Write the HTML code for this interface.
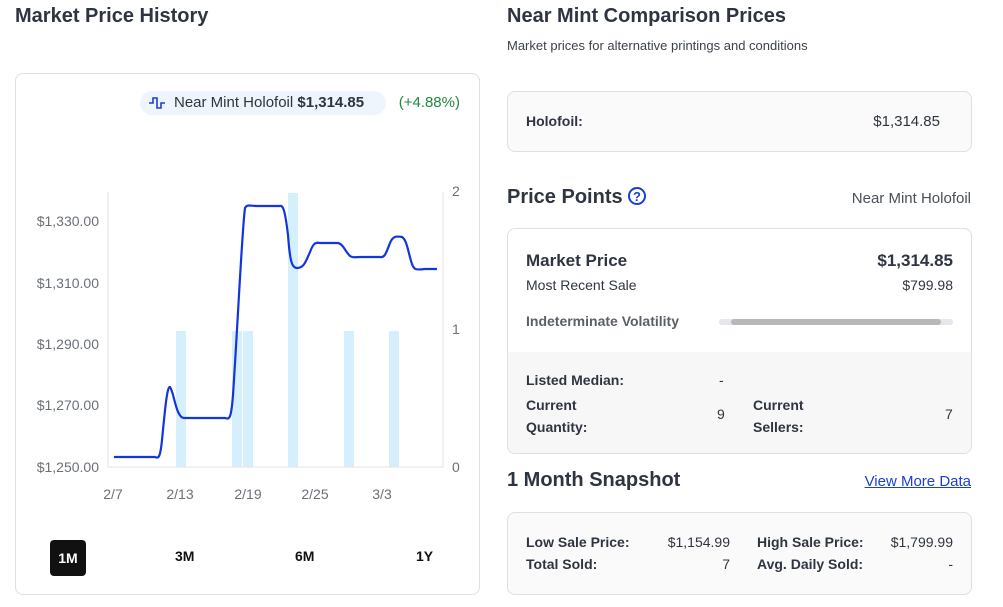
<!DOCTYPE html>
<html><head><style>
body{margin:0;width:1003px;height:607px;background:#fff;font-family:"Liberation Sans",sans-serif;color:#2f3540;position:relative;overflow:hidden}
.a{position:absolute;white-space:nowrap}
.r{position:absolute;white-space:nowrap;text-align:right}
.b{font-weight:bold}
.box{position:absolute;border:1px solid #dcdfe3;border-radius:8px;box-sizing:border-box}
</style></head><body>
<div class="a b" style="left:15px;top:5px;font-size:20px">Market Price History</div>
<div class="box" style="left:15px;top:73px;width:465px;height:522px"></div>
<div class="a" style="left:140px;top:91px;width:246px;height:24px;background:#eff5fd;border-radius:12px"></div>
<svg class="a" style="left:148px;top:95px" width="18" height="16"><path d="M1 8H5V3H9V13H13V8H17" fill="none" stroke="#1a3fd6" stroke-width="1.6"/></svg>
<div class="a" style="left:174px;top:94px;font-size:15px">Near Mint Holofoil <b>$1,314.85</b></div>
<div class="r" style="right:543px;top:94px;font-size:15px;color:#1f8a3d">(+4.88%)</div>
<svg class="a" style="left:0;top:0" width="480" height="520">
<g fill="#d5effd"><rect x="176" y="331" width="10" height="136"/><rect x="232" y="331" width="10" height="136"/><rect x="243" y="331" width="10" height="136"/><rect x="288" y="193" width="10" height="274"/><rect x="344" y="331" width="10" height="136"/><rect x="389" y="331" width="10" height="136"/></g>
<g stroke="#e3e3e3" fill="none"><path d="M108 192V467H443V192"/></g>
<path d="M114 457L155 457C158 458 160 460 162 440C165 410 167 386 170 387C174 392 176 418 184 418L225 418C229 419 231 421 233 395C238 320 242 230 245 208C247 204 250 206 258 206L280 206C283 205 285 210 288 235C290 262 292 268 297 268C303 268 305 264 310 252C313 244 315 242 320 243L338 243C343 244 345 251 350 256C353 258 355 257 362 257L380 257C385 258 386 253 390 243C393 236 396 236 402 237C407 240 408 252 412 264C414 270 416 270 425 269L437 269" fill="none" stroke="#1236db" stroke-width="2.2"/>
<g font-size="14" fill="#6b7078" text-anchor="end"><text x="99" y="226">$1,330.00</text><text x="99" y="288">$1,310.00</text><text x="99" y="349">$1,290.00</text><text x="99" y="410">$1,270.00</text><text x="99" y="472">$1,250.00</text></g>
<g font-size="14" fill="#6b7078"><text x="452" y="196">2</text><text x="452" y="334">1</text><text x="452" y="472">0</text></g>
<g font-size="14" fill="#6b7078" text-anchor="middle"><text x="113" y="499">2/7</text><text x="180" y="499">2/13</text><text x="248" y="499">2/19</text><text x="315" y="499">2/25</text><text x="382" y="499">3/3</text></g>
</svg>
<div class="a b" style="left:50px;top:540px;width:36px;height:36px;background:#111;color:#fff;border-radius:4px;font-size:14px;line-height:36px;text-align:center">1M</div>
<div class="a b" style="left:175px;top:548px;font-size:14px;color:#111">3M</div>
<div class="a b" style="left:295px;top:548px;font-size:14px;color:#111">6M</div>
<div class="a b" style="left:416px;top:548px;font-size:14px;color:#111">1Y</div>

<div class="a b" style="left:507px;top:5px;font-size:20px">Near Mint Comparison Prices</div>
<div class="a" style="left:507px;top:38px;font-size:13px;color:#3c424a">Market prices for alternative printings and conditions</div>
<div class="box" style="left:507px;top:91px;width:465px;height:61px;background:#fafafa"></div>
<div class="a b" style="left:526px;top:113px;font-size:14px">Holofoil:</div>
<div class="r" style="right:63px;top:113px;font-size:15px">$1,314.85</div>

<div class="a b" style="left:507px;top:186px;font-size:20px">Price Points</div>
<div class="a" style="left:628px;top:187px;width:18px;height:18px;border:2px solid #1a3fd6;border-radius:50%;box-sizing:border-box;color:#1a3fd6;font-size:13px;font-weight:bold;text-align:center;line-height:15px">?</div>
<div class="r" style="right:32px;top:190px;font-size:15px;color:#4a5058">Near Mint Holofoil</div>
<div class="box" style="left:507px;top:228px;width:465px;height:226px;overflow:hidden"><div style="position:absolute;left:0;top:123px;width:100%;height:103px;background:#f7f7f7"></div></div>
<div class="a b" style="left:526px;top:251px;font-size:17px">Market Price</div>
<div class="r b" style="right:50px;top:251px;font-size:17px">$1,314.85</div>
<div class="a" style="left:526px;top:277px;font-size:14px">Most Recent Sale</div>
<div class="r" style="right:50px;top:277px;font-size:14px">$799.98</div>
<div class="a b" style="left:526px;top:313px;font-size:14px;color:#5a6068">Indeterminate Volatility</div>
<div class="a" style="left:719px;top:319px;width:234px;height:6px;background:#e4e7eb;border-radius:3px"></div>
<div class="a" style="left:731px;top:319px;width:210px;height:6px;background:#b8b8b8;border-radius:3px"></div>
<div class="a b" style="left:526px;top:372px;font-size:14px">Listed Median:</div>
<div class="a" style="left:719px;top:372px;font-size:14px">-</div>
<div class="a b" style="left:526px;top:394px;font-size:14px;line-height:22px">Current<br>Quantity:</div>
<div class="a" style="left:717px;top:406px;font-size:14px">9</div>
<div class="a b" style="left:753px;top:394px;font-size:14px;line-height:22px">Current<br>Sellers:</div>
<div class="a" style="left:945px;top:406px;font-size:14px">7</div>

<div class="a b" style="left:507px;top:469px;font-size:20px">1 Month Snapshot</div>
<div class="r" style="right:32px;top:473px;font-size:15px;color:#1a3fd6;text-decoration:underline">View More Data</div>
<div class="box" style="left:507px;top:512px;width:465px;height:83px;background:#fafafa"></div>
<div class="a b" style="left:526px;top:534px;font-size:14px">Low Sale Price:</div>
<div class="r" style="right:273px;top:534px;font-size:14px">$1,154.99</div>
<div class="a b" style="left:757px;top:534px;font-size:14px">High Sale Price:</div>
<div class="r" style="right:50px;top:534px;font-size:14px">$1,799.99</div>
<div class="a b" style="left:526px;top:556px;font-size:14px">Total Sold:</div>
<div class="r" style="right:273px;top:556px;font-size:14px">7</div>
<div class="a b" style="left:757px;top:556px;font-size:14px">Avg. Daily Sold:</div>
<div class="r" style="right:50px;top:556px;font-size:14px">-</div>
</body></html>
